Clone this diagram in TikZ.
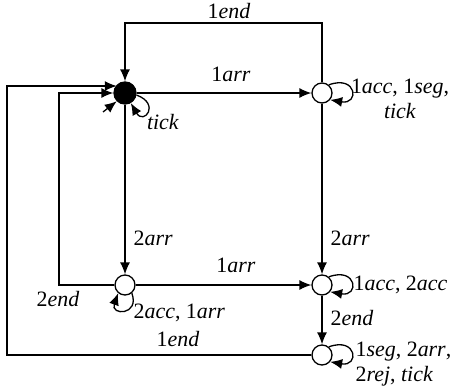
\documentclass[tikz,border=0pt]{standalone}
\usepackage{fontspec}
\setmainfont{Liberation Serif}
\usetikzlibrary{arrows.meta}
\begin{document}
\begin{tikzpicture}[x=1bp,y=1bp, line width=1.3bp,
  >={Latex[length=12bp,width=10bp]},
  st/.style={circle,draw,minimum size=20bp,inner sep=0pt},
  lbl/.style={font=\fontsize{22}{25}\selectfont, inner sep=0pt}]
\useasboundingbox (0,0) rectangle (454,391);
% states
\node[st,fill=black,minimum size=22bp] (s0) at (125,298) {};
\node[st] (s1) at (322,298) {};
\node[st] (s2) at (125,106) {};
\node[st] (s3) at (322,106) {};
\node[st] (s4) at (322,36) {};
% helper coordinates
\coordinate (t1) at (322,368);
\coordinate (t0) at (125,368);
\coordinate (a1) at (59,106);
\coordinate (a2) at (59,298);
\coordinate (b1) at (7,36);
\coordinate (b2) at (7,305);
\coordinate (init) at (103,279);
% edges
\draw[->] (s1.north) -- (t1) -- (t0) -- (s0.north);
\draw[->] (s0) -- (s1);
\draw[->] (s0) -- (s2);
\draw[->] (s1) -- (s3);
\draw[->] (s2) -- (s3);
\draw[->] (s3) -- (s4);
\draw[->] (s2.west) -- (a1) -- (a2) -- (s0.west);
\draw[->] (s4.west) -- (b1) -- (b2) -- (b2 -| s0.north west);
\draw[->] (init) -- (s0.225);
% loops
\draw[->] (s0.-10) .. controls +(-20:26) and +(-60:26) .. (s0.-60);
\draw[->] (s1.50) .. controls +(20:30) and +(-10:30) .. (s1.-40);
\draw[->] (s3.50) .. controls +(20:30) and +(-10:30) .. (s3.-40);
\draw[->] (s4.50) .. controls +(20:30) and +(-10:30) .. (s4.-40);
\draw[->] (s2.-50) .. controls +(-70:24) and +(-110:24) .. (s2.-130);
% labels
\node[lbl] (l1) at (229,380) {1\textit{end}};
\node[lbl] (l2) at (231,317) {1\textit{arr}};
\node[lbl,anchor=west] (l3) at (133,153) {2\textit{arr}};
\node[lbl,anchor=west] (l4) at (330,153) {2\textit{arr}};
\node[lbl] (l5) at (236,126) {1\textit{arr}};
\node[lbl,anchor=west] (l6) at (330,73) {2\textit{end}};
\node[lbl] (l7) at (58,92) {2\textit{end}};
\node[lbl] (l8) at (178,52) {1\textit{end}};
\node[lbl] (l9) at (163,269) {\textit{tick}};
\node[lbl,align=center] (l10) at (400,292) {1\textit{acc}, 1\textit{seg},\\\textit{tick}};
\node[lbl,anchor=west] (l11) at (353,106) {1\textit{acc}, 2\textit{acc}};
\node[lbl,anchor=west] (l12) at (133,78) {2\textit{acc}, 1\textit{arr}};
\node[lbl,anchor=west,align=left] (l13) at (355,26.5) {1\textit{seg}, 2\textit{arr},\\2\textit{rej}, \textit{tick}};
\end{tikzpicture}
\end{document}
